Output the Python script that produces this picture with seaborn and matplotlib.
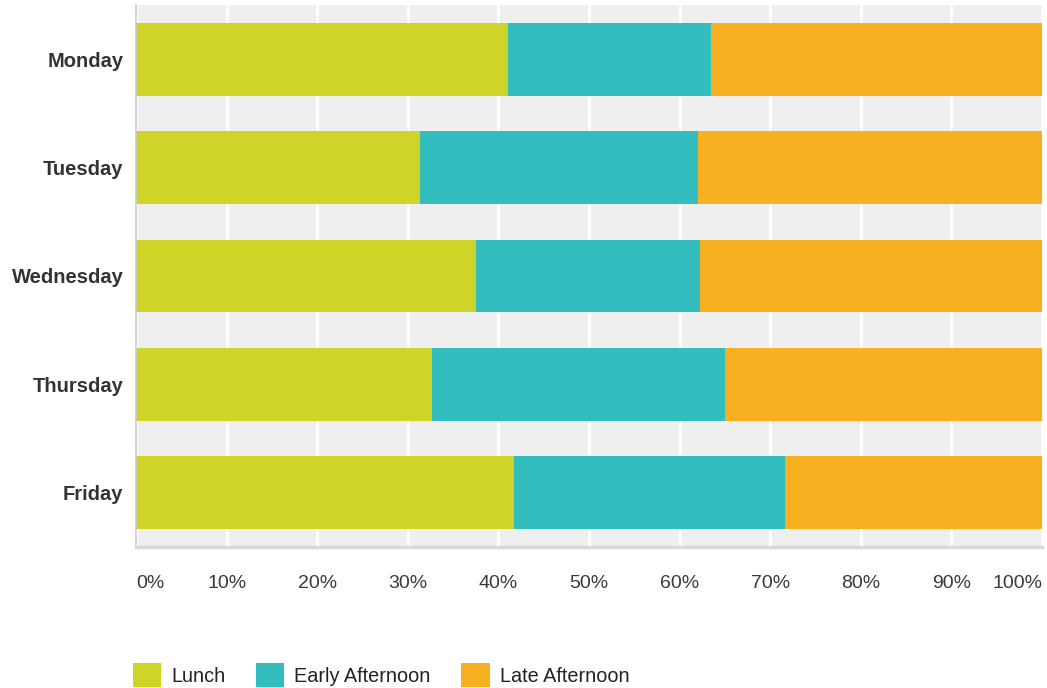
import matplotlib
matplotlib.use("Agg")
import matplotlib.pyplot as plt
from matplotlib.patches import Patch
import numpy as np
import pandas as pd
import seaborn as sns

# Share of visits per time slot, in percent
days = ["Monday", "Tuesday", "Wednesday", "Thursday", "Friday"]
lunch = [41.1, 31.3, 37.5, 32.7, 41.7]
early_afternoon = [22.4, 30.7, 24.7, 32.3, 29.9]
late_afternoon = [36.5, 38.0, 37.8, 35.0, 28.4]

series_names = ["Lunch", "Early Afternoon", "Late Afternoon"]
series_colors = ["#cfd528", "#33bdbf", "#f7b01f"]
tick_values = list(range(0, 101, 10))
tick_labels = [f"{v}%" for v in tick_values]

sns.set_theme(style="white")
plt.rcParams["font.family"] = ["Liberation Sans", "DejaVu Sans"]

df = pd.DataFrame({
    "day": days,
    "Lunch": lunch,
    "Early Afternoon": early_afternoon,
    "Late Afternoon": late_afternoon,
})
# cumulative totals so each layer ends where the next segment stops
cum = df[series_names].cumsum(axis=1)

fig = plt.figure(figsize=(10.47, 6.88), dpi=100)
ax = fig.add_axes([136 / 1047, 1 - 547 / 688, 906 / 1047, 542 / 688])
ax.set_facecolor("#efefef")

for name, color in reversed(list(zip(series_names, series_colors))):
    sns.barplot(x=cum[name], y=df["day"], orient="h", color=color,
                width=0.67, saturation=1, ax=ax, order=days,
                linewidth=0, edgecolor="none")

ax.set_xlim(0, 100)
ax.set_ylim(len(days) - 0.5, -0.5)
ax.set_xlabel("")
ax.set_ylabel("")

ax.set_xticks(tick_values)
ax.set_xticklabels(tick_labels)
ax.xaxis.grid(True, color="white", linewidth=2)
ax.yaxis.grid(False)
ax.set_axisbelow(True)
ax.tick_params(axis="x", length=0, pad=20, labelsize=14, labelcolor="#3a3a3a")
ax.tick_params(axis="y", length=0, pad=9, labelsize=14.5, labelcolor="#333333")
for lab in ax.get_yticklabels():
    lab.set_fontweight("bold")
xt = ax.get_xticklabels()
xt[0].set_ha("left")
xt[-1].set_ha("right")

for side in ["top", "right"]:
    ax.spines[side].set_visible(False)
ax.spines["left"].set_color("#cccccc")
ax.spines["left"].set_linewidth(1.2)
ax.spines["bottom"].set_color("#d9d9d9")
ax.spines["bottom"].set_linewidth(2.5)

handles = [Patch(facecolor=c, edgecolor="none", label=n)
           for n, c in zip(series_names, series_colors)]
fig.legend(handles=handles, loc="center left",
           bbox_to_anchor=(123 / 1047, 13 / 688), ncol=3, frameon=False,
           fontsize=14.3, handlelength=1.42, handleheight=1.45,
           handletextpad=0.5, columnspacing=1.55, borderpad=0,
           labelcolor="#222222")

fig.savefig("out.png", dpi=100, facecolor="white")
